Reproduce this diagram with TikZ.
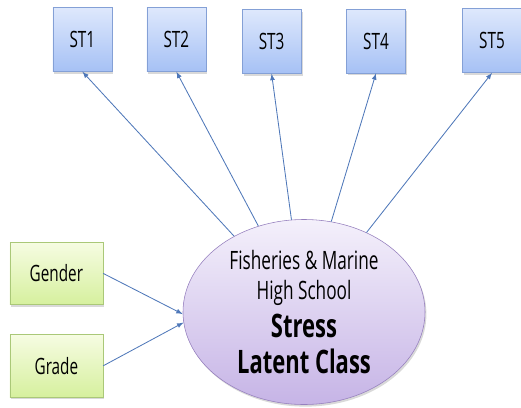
\documentclass[tikz,border=0pt]{standalone}
\usepackage{fontspec}
\setmainfont[FakeStretch=0.68]{Open Sans}
\usepackage{xcolor}
\usepackage{tikz}
\usetikzlibrary{shapes, arrows, positioning, shadows}
\definecolor{stborder}{RGB}{132, 160, 214}
\definecolor{sttop}{RGB}{222, 232, 252}
\definecolor{stbottom}{RGB}{166, 193, 245}
\definecolor{grborder}{RGB}{170, 200, 120}
\definecolor{grtop}{RGB}{246, 252, 226}
\definecolor{grbottom}{RGB}{214, 240, 158}
\definecolor{lcborder}{RGB}{150, 128, 190}
\definecolor{lctop}{RGB}{244, 240, 251}
\definecolor{lcbottom}{RGB}{198, 180, 230}
\definecolor{linkcolor}{RGB}{79, 120, 185}

\tikzset{
    itembox/.style={draw=stborder, top color=sttop, bottom color=stbottom,
        minimum width=1.475cm, minimum height=1.6cm, inner sep=0pt,
        font=\fontsize{16}{18}\selectfont,
        drop shadow={shadow xshift=1pt, shadow yshift=-1.5pt, opacity=0.3}},
    covbox/.style={draw=grborder, top color=grtop, bottom color=grbottom,
        minimum width=2.325cm, minimum height=1.56cm, inner sep=0pt,
        font=\fontsize{16}{18}\selectfont,
        drop shadow={shadow xshift=1pt, shadow yshift=-1.5pt, opacity=0.3}},
    link/.style={draw=linkcolor, line width=0.6pt, -latex}
}

\begin{document}
\begin{tikzpicture}
        \useasboundingbox (0,0) rectangle (13.025,10.175);
        % Stress items
        \node[itembox] (st1) at (2.06,9.19) {ST1};
        \node[itembox] (st2) at (4.41,9.19) {ST2};
        \node[itembox] (st3) at (6.79,9.14) {ST3};
        \node[itembox] (st4) at (9.40,9.15) {ST4};
        \node[itembox] (st5) at (12.30,9.16) {ST5};
        % Covariates
        \node[covbox] (gender) at (1.41,3.34) {Gender};
        \node[covbox] (grade) at (1.41,1.03) {Grade};
        % Latent class
        \node[ellipse, draw=lcborder, top color=lctop, bottom color=lcbottom,
            minimum width=6.05cm, minimum height=4.625cm, inner sep=0pt, align=center,
            drop shadow={shadow xshift=1pt, shadow yshift=-1.5pt, opacity=0.3}]
            (lc) at (7.6,2.375)
            {\fontsize{18}{21.3}\selectfont Fisheries \& Marine\\[6.4pt]
             \fontsize{18}{21.3}\selectfont High School\\[5.4pt]
             \fontsize{23}{24.9}\selectfont\bfseries Stress\\[7pt]
             \fontsize{23}{24.9}\selectfont\bfseries Latent Class};
        \foreach \i in {1,...,5}
            \draw[link] (lc) -- (st\i.south);
        \draw[link] (gender.east) -- (lc.181);
        \draw[link] (grade.east) -- (lc.185);
    \end{tikzpicture}
\end{document}
